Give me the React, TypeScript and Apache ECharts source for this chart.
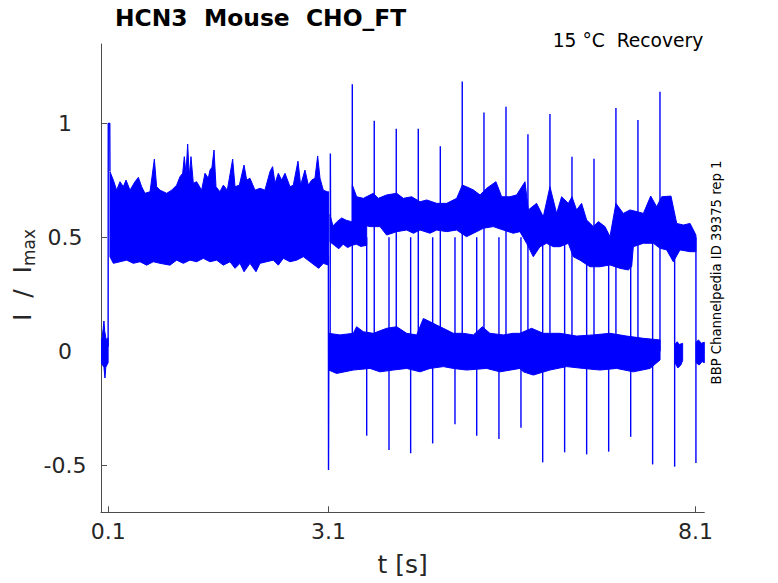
import React, { useEffect, useRef } from 'react';
import * as echarts from 'echarts';

const FONT = 'DejaVu Sans';
const BLUE = '#0000ff';
const AXIS = '#4d4d4d';
const TXT = '#262626';

const X_TICKS = [0.1, 3.1, 8.1];
const Y_TICKS = [-0.5, 0, 0.5, 1];

// baseline before the step (t < 0.1)
const BASE_UPPER = [[0, 0.05], [0.015, 0.06], [0.03, 0.1], [0.04, 0.133], [0.05, 0.09], [0.065, 0.06], [0.08, 0.05], [0.097, 0.06]];
const BASE_LOWER = [[0, -0.05], [0.02, -0.06], [0.04, -0.07], [0.054, -0.117], [0.065, -0.07], [0.08, -0.06], [0.097, -0.05]];

// activation step to 1
const STEP_ON = [[0.097, 0.02], [0.099, 1.0], [0.119, 1.0], [0.122, 0.79]];

// main noisy band 0.12 .. 3.1 s
const MAIN_UPPER = [
  [0.122, 0.788], [0.168, 0.751], [0.213, 0.707], [0.259, 0.744], [0.304, 0.722], [0.341, 0.751], [0.395, 0.707],
  [0.463, 0.744], [0.509, 0.763], [0.554, 0.722], [0.599, 0.693], [0.668, 0.7], [0.727, 0.843], [0.758, 0.722],
  [0.804, 0.707], [0.895, 0.693], [0.963, 0.707], [1.031, 0.729], [1.076, 0.766], [1.113, 0.781], [1.135, 0.854],
  [1.158, 0.781], [1.181, 0.909], [1.203, 0.766], [1.226, 0.854], [1.258, 0.737], [1.303, 0.744], [1.371, 0.707],
  [1.417, 0.781], [1.462, 0.759], [1.485, 0.795], [1.512, 0.807], [1.54, 0.883], [1.567, 0.722], [1.621, 0.7],
  [1.667, 0.729], [1.721, 0.707], [1.794, 0.843], [1.826, 0.722], [1.885, 0.729], [1.949, 0.817], [1.985, 0.751],
  [2.03, 0.759], [2.098, 0.707], [2.166, 0.715], [2.234, 0.707], [2.302, 0.788], [2.338, 0.81], [2.371, 0.737],
  [2.416, 0.781], [2.461, 0.751], [2.507, 0.781], [2.575, 0.722], [2.62, 0.729], [2.684, 0.834], [2.72, 0.729],
  [2.779, 0.795], [2.825, 0.729], [2.87, 0.751], [2.915, 0.759], [2.952, 0.857], [2.984, 0.759], [3.029, 0.707],
  [3.083, 0.7], [3.101, 0.7],
];
const MAIN_LOWER = [
  [0.122, 0.415], [0.168, 0.386], [0.259, 0.393], [0.35, 0.4], [0.441, 0.386], [0.531, 0.393], [0.622, 0.378],
  [0.713, 0.393], [0.804, 0.386], [0.94, 0.378], [1.031, 0.4], [1.122, 0.386], [1.212, 0.4], [1.303, 0.393],
  [1.394, 0.408], [1.485, 0.393], [1.576, 0.4], [1.667, 0.378], [1.758, 0.393], [1.826, 0.364], [1.894, 0.386],
  [1.949, 0.349], [2.03, 0.386], [2.112, 0.349], [2.166, 0.386], [2.257, 0.393], [2.348, 0.4], [2.416, 0.378],
  [2.484, 0.408], [2.575, 0.393], [2.666, 0.4], [2.757, 0.415], [2.848, 0.393], [2.966, 0.364], [3.029, 0.386],
  [3.101, 0.378],
];

// deactivation transients at 3.1 s
const STEP_OFF_DOWN = [[3.098, 0.42], [3.1, -0.52], [3.104, 0.0]];
const STEP_OFF_UP = [[3.122, 0.05], [3.125, 0.868], [3.128, 0.55]];

// first partially-open level after 3.1 s
const HB1_UPPER = [[3.12, 0.6], [3.16, 0.55], [3.22, 0.57], [3.28, 0.585], [3.34, 0.575], [3.4, 0.57], [3.46, 0.565], [3.52, 0.56], [3.58, 0.555], [3.62, 0.55]];
const HB1_LOWER = [[3.12, 0.48], [3.18, 0.465], [3.24, 0.45], [3.3, 0.47], [3.36, 0.455], [3.42, 0.465], [3.48, 0.47], [3.54, 0.46], [3.62, 0.465]];

// open level during recovery
const HB2_UPPER = [
  [3.424, 0.73], [3.483, 0.678], [3.574, 0.671], [3.71, 0.693], [3.778, 0.671], [3.892, 0.686], [4.029, 0.693],
  [4.12, 0.671], [4.233, 0.678], [4.347, 0.656], [4.438, 0.664], [4.574, 0.649], [4.71, 0.649], [4.846, 0.671],
  [4.923, 0.729], [4.98, 0.722], [5.074, 0.708], [5.164, 0.686], [5.254, 0.715], [5.381, 0.744], [5.459, 0.678],
  [5.572, 0.678], [5.663, 0.686], [5.777, 0.744], [5.822, 0.62], [5.935, 0.649], [6.026, 0.59], [6.117, 0.722],
  [6.208, 0.605], [6.276, 0.678], [6.367, 0.649], [6.417, 0.678], [6.48, 0.62], [6.548, 0.649], [6.617, 0.576],
  [6.708, 0.547], [6.776, 0.569], [6.867, 0.547], [6.935, 0.503], [7.016, 0.649], [7.116, 0.605], [7.207, 0.62],
  [7.299, 0.613], [7.39, 0.605], [7.49, 0.681], [7.571, 0.634], [7.639, 0.678], [7.766, 0.681], [7.844, 0.561],
  [7.935, 0.554], [8.026, 0.561], [8.094, 0.518], [8.106, 0.51],
];
const HB2_LOWER = [
  [3.424, 0.561], [3.574, 0.554], [3.665, 0.547], [3.801, 0.547], [3.892, 0.51], [4.029, 0.525], [4.165, 0.532],
  [4.256, 0.518], [4.347, 0.532], [4.483, 0.518], [4.574, 0.532], [4.71, 0.525], [4.846, 0.532], [4.98, 0.503],
  [5.119, 0.525], [5.21, 0.54], [5.345, 0.547], [5.481, 0.532], [5.617, 0.518], [5.708, 0.525], [5.799, 0.474],
  [5.89, 0.415], [5.981, 0.459], [6.071, 0.474], [6.162, 0.459], [6.253, 0.459], [6.367, 0.474], [6.435, 0.415],
  [6.526, 0.4], [6.662, 0.371], [6.798, 0.371], [6.935, 0.379], [7.071, 0.364], [7.184, 0.357], [7.23, 0.371],
  [7.253, 0.459], [7.39, 0.474], [7.526, 0.474], [7.617, 0.452], [7.707, 0.445], [7.798, 0.393], [7.889, 0.445],
  [8.026, 0.437], [8.106, 0.437],
];

// closed level during recovery
const LB_UPPER = [
  [3.103, 0.079], [3.256, 0.072], [3.438, 0.079], [3.483, 0.108], [3.574, 0.086], [3.71, 0.079], [3.892, 0.101],
  [4.029, 0.108], [4.165, 0.079], [4.301, 0.072], [4.392, 0.144], [4.483, 0.13], [4.574, 0.115], [4.665, 0.101],
  [4.8, 0.079], [4.937, 0.079], [5.074, 0.072], [5.196, 0.108], [5.299, 0.079], [5.481, 0.072], [5.617, 0.079],
  [5.708, 0.079], [5.867, 0.101], [6.026, 0.079], [6.253, 0.079], [6.48, 0.067], [6.708, 0.072], [6.935, 0.079],
  [7.162, 0.067], [7.39, 0.057], [7.617, 0.05],
];
const LB_LOWER = [
  [3.103, -0.082], [3.21, -0.097], [3.438, -0.082], [3.665, -0.075], [3.801, -0.09], [3.983, -0.082], [4.165, -0.075],
  [4.347, -0.09], [4.483, -0.075], [4.665, -0.067], [4.8, -0.075], [4.98, -0.082], [5.254, -0.075], [5.436, -0.09],
  [5.708, -0.075], [5.754, -0.09], [5.89, -0.104], [6.117, -0.082], [6.344, -0.067], [6.571, -0.075], [6.798, -0.082],
  [7.026, -0.075], [7.253, -0.09], [7.48, -0.075], [7.617, -0.038],
];

// short closed segments near the end
const BLOB1_UPPER = [[7.82, 0.03], [7.85, 0.042], [7.88, 0.03], [7.925, 0.035]];
const BLOB1_LOWER = [[7.82, -0.05], [7.86, -0.073], [7.9, -0.06], [7.925, -0.04]];
const BLOB2_UPPER = [[8.108, 0.04], [8.14, 0.05], [8.18, 0.035], [8.22, 0.04]];
const BLOB2_LOWER = [[8.108, -0.05], [8.15, -0.06], [8.19, -0.045], [8.22, -0.05]];

// capacitive transients: [t, peak]
const UP_SPIKES = [
  [3.424, 1.172], [3.723, 1.011], [4.023, 0.976], [4.323, 0.976], [4.623, 0.9], [4.922, 1.183], [5.218, 1.048],
  [5.518, 1.073], [5.817, 0.952], [6.117, 1.041], [6.417, 0.854], [6.717, 0.845], [7.016, 1.067], [7.316, 1.015],
  [7.616, 1.139],
];
const DOWN_SPIKES = [
  [3.62, -0.37], [3.924, -0.433], [4.219, -0.447], [4.519, -0.404], [4.823, -0.32], [5.119, -0.37], [5.422, -0.385],
  [5.722, -0.335], [6.018, -0.487], [6.317, -0.443], [6.617, -0.452], [6.917, -0.44], [7.217, -0.375], [7.516, -0.496],
  [7.816, -0.506], [8.106, -0.49],
];

const BANDS = [
  { upper: BASE_UPPER, lower: BASE_LOWER },
  { upper: MAIN_UPPER, lower: MAIN_LOWER },
  { upper: HB1_UPPER, lower: HB1_LOWER },
  { upper: HB2_UPPER, lower: HB2_LOWER },
  { upper: LB_UPPER, lower: LB_LOWER },
  { upper: BLOB1_UPPER, lower: BLOB1_LOWER },
  { upper: BLOB2_UPPER, lower: BLOB2_LOWER },
];

const SPIKES = [
  ...UP_SPIKES.map(([t, v]) => [t, 0, v]),
  ...DOWN_SPIKES.map(([t, v]) => [t, 0.5, v]),
];

export default function App() {
  const ref = useRef<HTMLDivElement>(null);

  useEffect(() => {
    if (!ref.current) return;
    const chart = echarts.init(ref.current, null, { renderer: 'svg' });
    const lineSeries = (data: number[][]) => ({
      type: 'line',
      data,
      showSymbol: false,
      symbol: 'none',
      silent: true,
      lineStyle: { color: BLUE, width: 1.4 },
      z: 3,
    });
    chart.setOption({
      animation: false,
      backgroundColor: '#ffffff',
      grid: { left: 101, top: 44, right: 73.7, bottom: 70.7, containLabel: false },
      xAxis: {
        type: 'value',
        min: 0,
        max: 8.22,
        axisLine: { show: true, onZero: false, lineStyle: { color: AXIS, width: 1 } },
        axisTick: { show: true, inside: true, length: 6, customValues: X_TICKS, lineStyle: { color: AXIS } },
        axisLabel: {
          customValues: X_TICKS,
          fontSize: 22,
          color: TXT,
          fontFamily: FONT,
          margin: 8,
          formatter: (v: number) => String(v),
        },
        splitLine: { show: false },
        name: 't [s]',
        nameLocation: 'middle',
        nameGap: 40,
        nameTextStyle: { fontSize: 25, color: TXT, fontFamily: FONT },
      },
      yAxis: {
        type: 'value',
        min: -0.706,
        max: 1.348,
        axisLine: { show: true, onZero: false, lineStyle: { color: AXIS, width: 1 } },
        axisTick: { show: true, inside: true, length: 6, customValues: Y_TICKS, lineStyle: { color: AXIS } },
        axisLabel: {
          customValues: Y_TICKS,
          fontSize: 22,
          color: TXT,
          fontFamily: FONT,
          margin: 36,
          align: 'center',
          formatter: (v: number) => String(v),
        },
        splitLine: { show: false },
      },
      graphic: [
        {
          type: 'text',
          left: 115,
          top: 6,
          style: { text: 'HCN3  Mouse  CHO_FT', font: `bold 23.4px "${FONT}"`, fill: '#000' },
        },
        {
          type: 'text',
          x: 703.3,
          y: 40.5,
          style: { text: '15 °C  Recovery', font: `18.7px "${FONT}"`, fill: '#000', align: 'right', verticalAlign: 'middle' },
        },
        {
          type: 'text',
          x: 716.5,
          y: 272.5,
          rotation: Math.PI / 2,
          style: { text: 'BBP Channelpedia ID 39375 rep 1', font: `13.2px "${FONT}"`, fill: '#000', align: 'center', verticalAlign: 'middle' },
        },
        {
          type: 'text',
          x: 22,
          y: 275,
          rotation: Math.PI / 2,
          style: {
            text: '{a|I  /  I}{b|max}',
            align: 'center',
            verticalAlign: 'middle',
            rich: {
              a: { fontSize: 25, fontFamily: FONT, fill: TXT, lineHeight: 30 } as any,
              b: { fontSize: 17, fontFamily: FONT, fill: TXT, lineHeight: 17, verticalAlign: 'bottom' } as any,
            },
          },
        },
      ],
      series: [
        {
          type: 'custom',
          silent: true,
          clip: true,
          data: BANDS.map((b) => [b.upper[0][0], b.upper[0][1]]),
          renderItem: (params: any, api: any) => {
            const b = BANDS[params.dataIndex];
            const pts = b.upper
              .map((p) => api.coord(p))
              .concat(b.lower.slice().reverse().map((p) => api.coord(p)));
            return {
              type: 'polygon',
              shape: { points: pts },
              style: { fill: BLUE, stroke: BLUE, lineWidth: 1 },
            };
          },
          z: 2,
        },
        {
          type: 'custom',
          silent: true,
          clip: true,
          data: SPIKES,
          renderItem: (params: any, api: any) => {
            const p0 = api.coord([api.value(0), api.value(1)]);
            const p1 = api.coord([api.value(0), api.value(2)]);
            return {
              type: 'line',
              shape: { x1: p0[0], y1: p0[1], x2: p1[0], y2: p1[1] },
              style: { stroke: BLUE, lineWidth: 1.4 },
            };
          },
          z: 3,
        },
        lineSeries(STEP_ON),
        lineSeries(STEP_OFF_DOWN),
        lineSeries(STEP_OFF_UP),
      ],
    });
    return () => chart.dispose();
  }, []);

  return (
    <div
      ref={ref}
      style={{ position: 'fixed', left: 0, top: 0, width: 778, height: 583, background: '#fff' }}
    />
  );
}
